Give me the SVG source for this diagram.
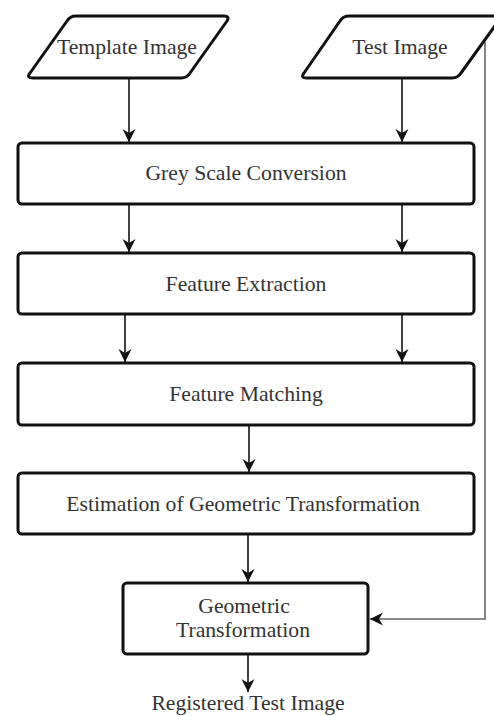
<svg xmlns="http://www.w3.org/2000/svg" width="494" height="716" viewBox="0 0 494 716">
  <style>
    .node { fill: #ffffff; stroke: #111111; stroke-width: 3; stroke-linejoin: round; }
    .label { font-family: "Liberation Serif", "Times New Roman", serif; font-size: 21.7px; fill: #333333; text-anchor: middle; }
    .edge { fill: none; stroke: #111111; stroke-width: 1.6; }
    .feedback { fill: none; stroke: #666666; stroke-width: 1.6; }
  </style>
  <defs>
    <marker id="arrow" markerUnits="userSpaceOnUse" markerWidth="16" markerHeight="16" viewBox="0 0 16 16" refX="14" refY="8" orient="auto">
      <path d="M14,8 L1,1.5 L5,8 L1,14.5 Z" fill="#111111"/>
    </marker>
  </defs>
  <rect width="494" height="716" fill="#ffffff"/>

  <g id="connectors">
    <line class="edge" x1="129" y1="78" x2="129" y2="142" marker-end="url(#arrow)"/>
    <line class="edge" x1="402" y1="78" x2="402" y2="142" marker-end="url(#arrow)"/>
    <line class="edge" x1="129" y1="204" x2="129" y2="252" marker-end="url(#arrow)"/>
    <line class="edge" x1="402" y1="204" x2="402" y2="252" marker-end="url(#arrow)"/>
    <line class="edge" x1="125" y1="314" x2="125" y2="362" marker-end="url(#arrow)"/>
    <line class="edge" x1="402" y1="314" x2="402" y2="362" marker-end="url(#arrow)"/>
    <line class="edge" x1="249" y1="425" x2="249" y2="472" marker-end="url(#arrow)"/>
    <line class="edge" x1="248" y1="534" x2="248" y2="582" marker-end="url(#arrow)"/>
    <polyline class="feedback" points="485,42 485,619 370,619" marker-end="url(#arrow)"/>
    <line class="edge" x1="248" y1="654" x2="248" y2="692" marker-end="url(#arrow)"/>
  </g>

  <g id="template-image">
    <path class="node" d="M76,16 L224,16 Q230,16 227,21 L190,73 Q187,78 181,78 L33,78 Q26,78 30,73 L67,21 Q70,16 76,16 Z"/>
    <text class="label" x="127" y="54">Template Image</text>
  </g>

  <g id="test-image">
    <path class="node" d="M349,16 L502,16 L461,73 Q458,78 452,78 L307,78 Q300,78 304,73 L340,21 Q343,16 349,16 Z"/>
    <text class="label" x="400" y="54">Test Image</text>
  </g>

  <g id="grey-scale-conversion">
    <rect class="node" x="18" y="143" width="456" height="61" rx="4"/>
    <text class="label" x="246" y="180">Grey Scale Conversion</text>
  </g>

  <g id="feature-extraction">
    <rect class="node" x="18" y="253" width="456" height="61" rx="4"/>
    <text class="label" x="246" y="291">Feature Extraction</text>
  </g>

  <g id="feature-matching">
    <rect class="node" x="18" y="363" width="456" height="62" rx="4"/>
    <text class="label" x="246" y="401">Feature Matching</text>
  </g>

  <g id="estimation">
    <rect class="node" x="18" y="473" width="456" height="61" rx="4"/>
    <text class="label" x="243" y="511">Estimation of Geometric Transformation</text>
  </g>

  <g id="geometric-transformation">
    <rect class="node" x="123" y="583" width="245" height="71" rx="4"/>
    <text class="label" x="244" y="613">Geometric</text>
    <text class="label" x="243" y="637">Transformation</text>
  </g>

  <g id="registered-test-image">
    <text class="label" x="248" y="710">Registered Test Image</text>
  </g>
</svg>
